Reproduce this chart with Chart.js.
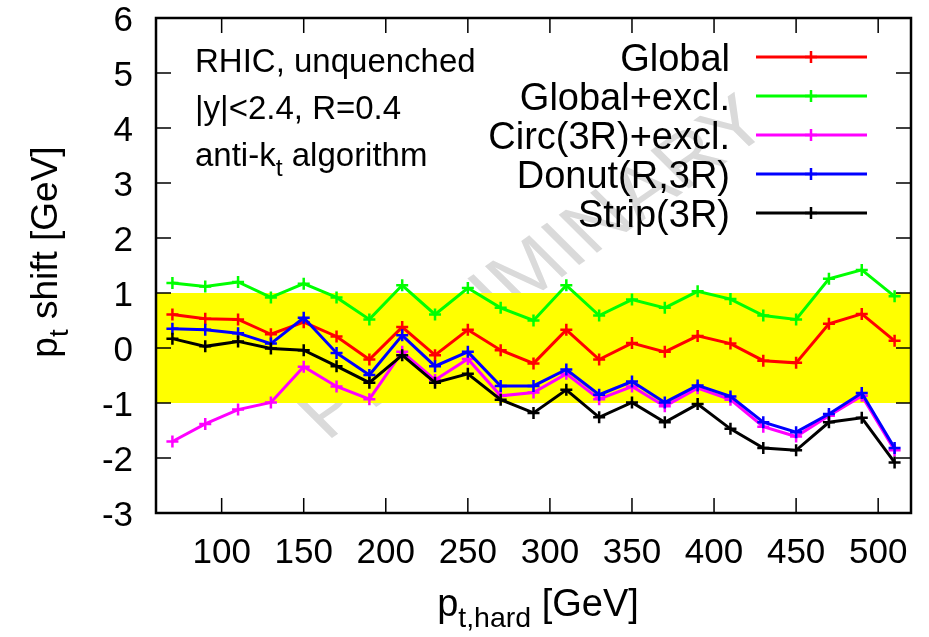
<!DOCTYPE html>
<html>
<head>
<meta charset="utf-8">
<script src="https://cdn.jsdelivr.net/npm/chart.js@4.4.1/dist/chart.umd.min.js"></script>
<style>
  html, body { margin: 0; padding: 0; background: #fff; }
  #wrap { width: 929px; height: 637px; position: relative; }
</style>
</head>
<body>
<div id="wrap"><canvas id="chart"></canvas></div>
<script>
const ptHard = [70, 90, 110, 130, 150, 170, 190, 210, 230, 250, 270, 290, 310, 330, 350, 370, 390, 410, 430, 450, 470, 490, 510];

const globalShift = [0.61, 0.53, 0.52, 0.25, 0.47, 0.21, -0.21, 0.38, -0.13, 0.33, -0.04, -0.28, 0.33, -0.21, 0.09, -0.07, 0.22, 0.08, -0.23, -0.27, 0.44, 0.62, 0.13];
const globalExclShift = [1.18, 1.12, 1.20, 0.92, 1.17, 0.92, 0.52, 1.14, 0.61, 1.09, 0.73, 0.50, 1.14, 0.59, 0.88, 0.73, 1.03, 0.89, 0.59, 0.52, 1.26, 1.42, 0.94];
const circExclShift = [-1.70, -1.38, -1.12, -0.99, -0.34, -0.70, -0.93, -0.07, -0.58, -0.20, -0.87, -0.81, -0.47, -0.93, -0.70, -1.06, -0.73, -0.94, -1.43, -1.61, -1.23, -0.87, -1.86];
const donutShift = [0.35, 0.33, 0.27, 0.08, 0.55, -0.09, -0.49, 0.23, -0.33, -0.07, -0.69, -0.69, -0.39, -0.85, -0.61, -0.99, -0.68, -0.88, -1.35, -1.53, -1.20, -0.82, -1.82];
const stripShift = [0.17, 0.03, 0.12, -0.01, -0.04, -0.33, -0.63, -0.13, -0.63, -0.47, -0.94, -1.18, -0.76, -1.26, -0.99, -1.35, -1.02, -1.47, -1.82, -1.86, -1.35, -1.27, -2.08];

const seriesNames = ["Global", "Global+excl.", "Circ(3R)+excl.", "Donut(R,3R)", "Strip(3R)"];
const seriesColors = ["#ff0000", "#00ff00", "#ff00ff", "#0000ff", "#000000"];
const seriesValues = [globalShift, globalExclShift, circExclShift, donutShift, stripShift];

const xTickValues = [100, 150, 200, 250, 300, 350, 400, 450, 500];
const yTickValues = [-3, -2, -1, 0, 1, 2, 3, 4, 5, 6];
const bandLow = -1;
const bandHigh = 1;

const FONT = '"Liberation Sans", Arial, sans-serif';

// parts: list of [text, isSubscript]
function richText(ctx, parts, x, y, size, align) {
  const widths = parts.map(([t, sub]) => {
    ctx.font = `${sub ? size * 0.75 : size}px ${FONT}`;
    return ctx.measureText(t).width;
  });
  const total = widths.reduce((a, b) => a + b, 0);
  let cx = align === "right" ? -total : align === "center" ? -total / 2 : 0;
  ctx.save();
  ctx.translate(x, y);
  ctx.textAlign = "left";
  ctx.textBaseline = "alphabetic";
  parts.forEach(([t, sub], i) => {
    ctx.font = `${sub ? size * 0.75 : size}px ${FONT}`;
    ctx.fillText(t, cx, sub ? size * 0.3 : 0);
    cx += widths[i];
  });
  ctx.restore();
}

function drawCross(ctx, x, y, r, color) {
  ctx.save();
  ctx.strokeStyle = color;
  ctx.lineWidth = 2.5;
  ctx.beginPath();
  ctx.moveTo(x - r, y);
  ctx.lineTo(x + r, y);
  ctx.moveTo(x, y - r);
  ctx.lineTo(x, y + r);
  ctx.stroke();
  ctx.restore();
}

const framePlugin = {
  id: "frame",
  beforeDatasetsDraw(chart) {
    const { ctx, chartArea: a, scales } = chart;
    // watermark, under the band
    ctx.save();
    ctx.translate(535, 270);
    ctx.scale(1.2, 1);
    ctx.rotate(-40 * Math.PI / 180);
    ctx.fillStyle = "rgb(218,218,218)";
    ctx.font = `72px ${FONT}`;
    ctx.textAlign = "center";
    ctx.textBaseline = "middle";
    ctx.fillText("PRELIMINARY", 0, 0);
    ctx.restore();

    const yHi = scales.y.getPixelForValue(bandHigh);
    const yLo = scales.y.getPixelForValue(bandLow);
    ctx.save();
    ctx.fillStyle = "#ffff00";
    ctx.fillRect(a.left, yHi, a.right - a.left, yLo - yHi);
    ctx.restore();
  },
  afterDraw(chart) {
    const { ctx, chartArea: a, scales } = chart;
    const tick = 15;
    ctx.save();
    ctx.strokeStyle = "#000";
    ctx.lineWidth = 2.5;
    ctx.strokeRect(a.left, a.top, a.right - a.left, a.bottom - a.top);
    ctx.lineWidth = 1.5;
    ctx.beginPath();
    xTickValues.forEach((v) => {
      const px = scales.x.getPixelForValue(v);
      ctx.moveTo(px, a.bottom);
      ctx.lineTo(px, a.bottom - tick);
      ctx.moveTo(px, a.top);
      ctx.lineTo(px, a.top + tick);
    });
    yTickValues.forEach((v) => {
      const py = scales.y.getPixelForValue(v);
      ctx.moveTo(a.left, py);
      ctx.lineTo(a.left + tick, py);
      ctx.moveTo(a.right, py);
      ctx.lineTo(a.right - tick, py);
    });
    ctx.stroke();

    ctx.fillStyle = "#000";
    xTickValues.forEach((v) => {
      richText(ctx, [[String(v), false]], scales.x.getPixelForValue(v), 563, 35, "center");
    });
    yTickValues.forEach((v) => {
      richText(ctx, [[String(v), false]], 133, scales.y.getPixelForValue(v) + 12.5, 35, "right");
    });

    // axis titles
    richText(ctx, [["p", false], ["t,hard", true], [" [GeV]", false]], 538, 616, 38, "center");
    ctx.save();
    ctx.translate(57, 252);
    ctx.rotate(-Math.PI / 2);
    richText(ctx, [["p", false], ["t", true], [" shift [GeV]", false]], 0, 0, 37, "center");
    ctx.restore();

    // labels in the corner
    richText(ctx, [["RHIC, unquenched", false]], 195, 72, 33, "left");
    richText(ctx, [["|y|<2.4, R=0.4", false]], 195, 119, 33, "left");
    richText(ctx, [["anti-k", false], ["t", true], [" algorithm", false]], 195, 166, 33, "left");

    // key
    seriesNames.forEach((name, i) => {
      const y = 57 + 39 * i;
      richText(ctx, [[name, false]], 730, y + 14, 38, "right");
      ctx.strokeStyle = seriesColors[i];
      ctx.lineWidth = 3;
      ctx.beginPath();
      ctx.moveTo(756, y);
      ctx.lineTo(867, y);
      ctx.stroke();
      drawCross(ctx, 811, y, 6, seriesColors[i]);
    });
    ctx.restore();
  },
};

function main() {
  const datasets = seriesNames.map((name, i) => ({
    label: name,
    data: ptHard.map((x, j) => ({ x, y: seriesValues[i][j] })),
    borderColor: seriesColors[i],
    backgroundColor: seriesColors[i],
    borderWidth: 3,
    pointStyle: "cross",
    pointRadius: 6,
    pointBorderWidth: 2.5,
    pointHoverRadius: 6,
    tension: 0,
    fill: false,
    order: seriesNames.length - i,
  }));

  new Chart(document.getElementById("chart"), {
    type: "line",
    data: { datasets },
    options: {
      animation: false,
      responsive: true,
      maintainAspectRatio: false,
      layout: { padding: { left: 156, top: 18, right: 18, bottom: 124 } },
      plugins: { legend: { display: false }, tooltip: { enabled: false } },
      scales: {
        x: { type: "linear", min: 60, max: 520, display: false },
        y: { type: "linear", min: -3, max: 6, display: false },
      },
    },
    plugins: [framePlugin],
  });
}

document.addEventListener("DOMContentLoaded", () => main());
</script>
</body>
</html>
